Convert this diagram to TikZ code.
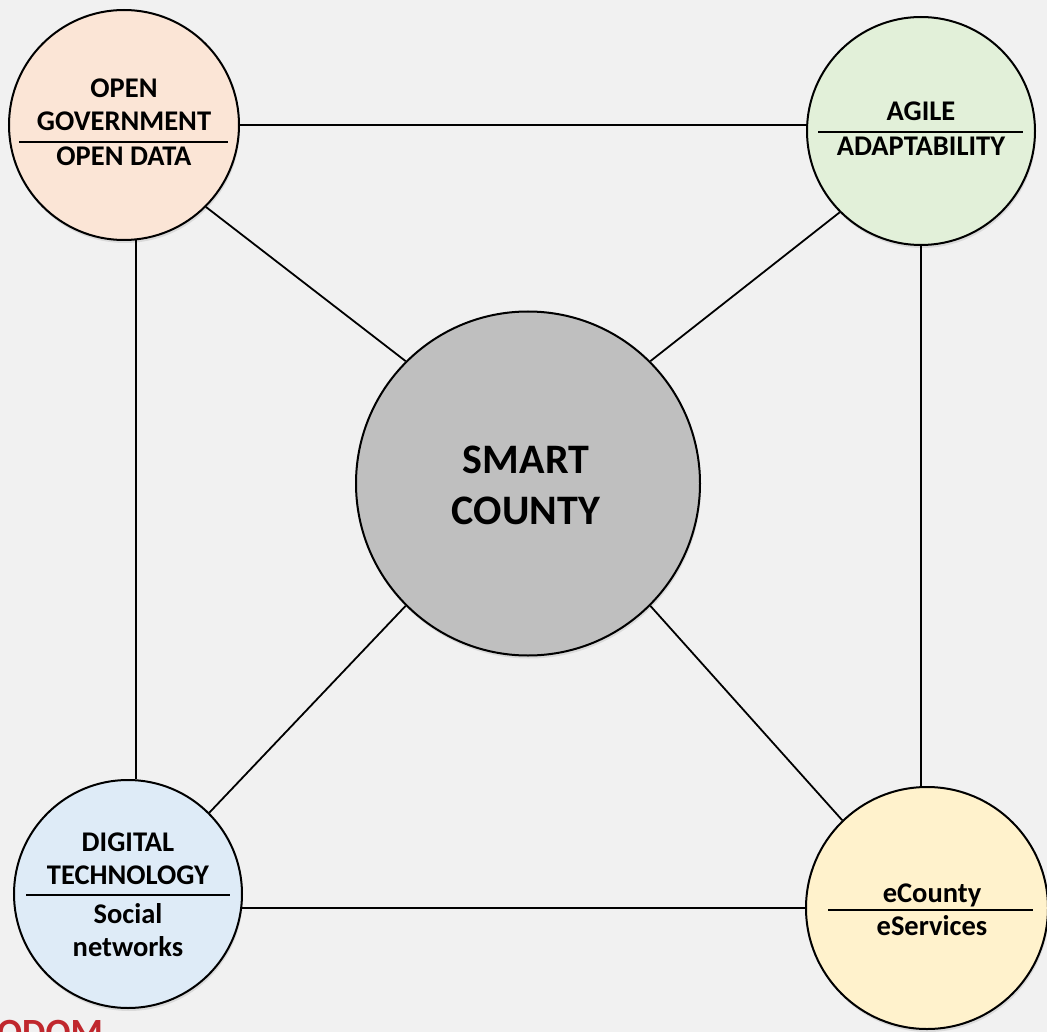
\documentclass[tikz,border=0pt]{standalone}
\usepackage{fontspec}
\setmainfont{Carlito}
\usetikzlibrary{shadows}
\definecolor{backdrop}{HTML}{F1F1F1}
\definecolor{peach}{HTML}{FBE5D6}
\definecolor{sage}{HTML}{E2F0D9}
\definecolor{skyblue}{HTML}{DEEBF7}
\definecolor{cream}{HTML}{FFF2CC}
\definecolor{hubgray}{HTML}{BFBFBF}
\definecolor{logored}{HTML}{C0272D}
\tikzstyle{ring}=[shape=circle,inner sep=0,line width=2pt,draw,drop shadow={opacity=0.2,shadow xshift=1pt,shadow yshift=-3pt}]
\tikzstyle{link}=[line width=1.8pt]
\tikzstyle{divider}=[line width=2.8pt]
\tikzstyle{small}=[font=\bfseries\fontsize{28.5}{33}\selectfont,align=center,inner sep=0,anchor=base]
\tikzstyle{big}=[font=\bfseries\fontsize{42}{51}\selectfont,align=center,inner sep=0,anchor=base]

\begin{document}
\begin{tikzpicture}[x=1pt,y=-1pt]
\fill[backdrop] (0,0) rectangle (1047,1032);
\useasboundingbox (0,0) rectangle (1047,1032);

% the five circles
\node[ring,fill=peach,minimum size=230pt] (gov) at (124,125) {};
\node[ring,fill=sage,minimum size=228pt] (agile) at (921,131) {};
\node[ring,fill=skyblue,minimum size=228pt] (digital) at (128,894) {};
\node[ring,fill=cream,minimum size=242pt] (ecounty) at (927,908) {};
\node[ring,fill=hubgray,minimum size=344pt] (hub) at (528,483.5) {};

% outer frame
\draw[link] (gov.east) -- (gov.east -| agile.west);
\draw[link] (gov.-84) -- (gov.-84 |- digital.north);
\draw[link] (agile.south) -- (agile.south |- ecounty.north);
\draw[link] (digital.-7.5) -- (digital.-7.5 -| ecounty.west);

% spokes to the hub
\foreach \n/\a/\b in {gov/-45/135, agile/-135/45, digital/45/-135, ecounty/134/-45}{
	\draw[link] (\n.\a) -- (hub.\b);}

% labels (base = baseline of the last line)
\node[small] (govtop) at (124,131) {OPEN\\GOVERNMENT};
\draw[divider] (19,142) -- (228,142);
\node[small] (govbot) at (124,166) {OPEN DATA};

\node[small] (agiletop) at (921,121) {AGILE};
\draw[divider] (818,132) -- (1023,132);
\node[small] (agilebot) at (921,156) {ADAPTABILITY};

\node[small] (digitaltop) at (128,884) {DIGITAL\\TECHNOLOGY};
\draw[divider] (26,895) -- (230,895);
\node[small] (digitalbot) at (128,956) {Social\\networks};

\node[small] (ecountytop) at (932,902) {eCounty};
\draw[divider] (828,910) -- (1033,910);
\node[small] (ecountybot) at (932,935) {eServices};

\node[big] (hubtext) at (526,524) {SMART\\COUNTY};

% logo fragment, cut by the page edge
\begin{scope}
\clip (0,0) rectangle (1047,1032);
\node[anchor=north west,inner sep=0,text=logored,font=\bfseries\fontsize{37}{37}\selectfont] (logo) at (-3,1020) {ODOM};
\end{scope}
\end{tikzpicture}
\end{document}
